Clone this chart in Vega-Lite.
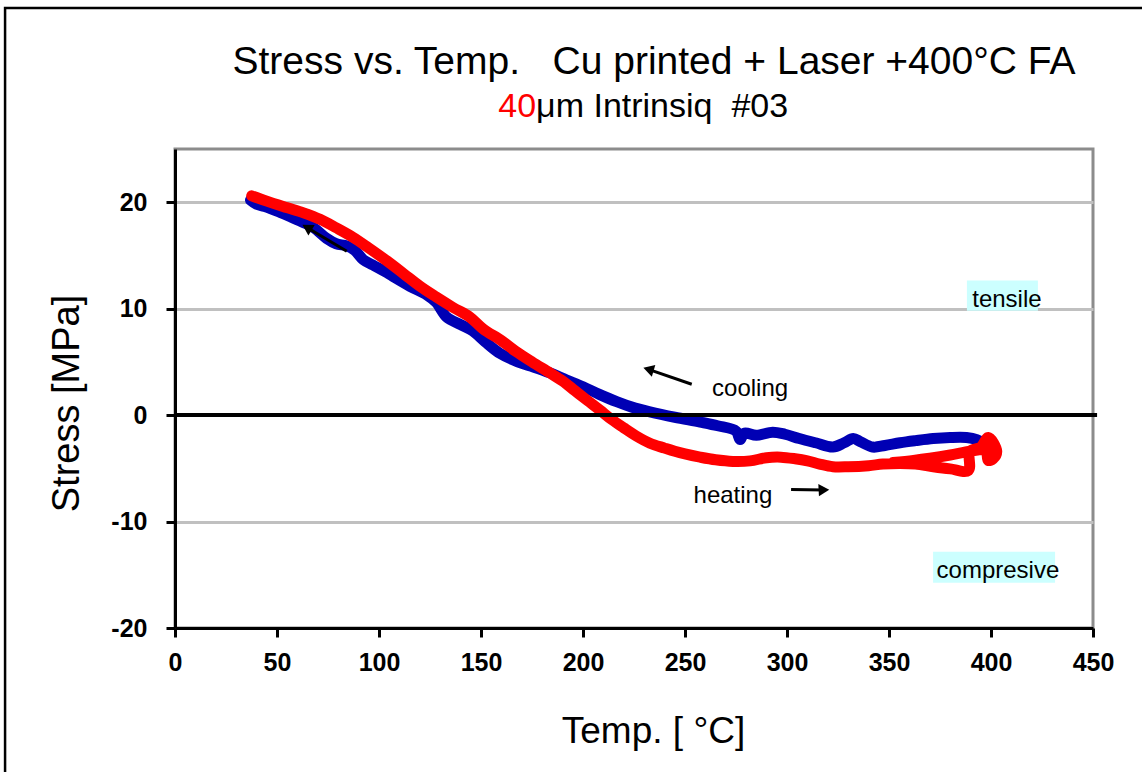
{
  "$schema": "https://vega.github.io/schema/vega-lite/v6.json",
  "width": 918,
  "height": 479,
  "autosize": {"type": "none"},
  "padding": {"left": 175, "top": 149, "right": 49, "bottom": 144},
  "background": "white",
  "config": {
    "font": "Liberation Sans",
    "view": {"stroke": "#8c8c8c", "strokeWidth": 3}
  },
  "datasets": {
    "curves": [
      {"series": "cooling", "order": 1, "temp": 397.9, "stress": -2.83},
      {"series": "cooling", "order": 2, "temp": 393, "stress": -2.3},
      {"series": "cooling", "order": 3, "temp": 388, "stress": -2.1},
      {"series": "cooling", "order": 4, "temp": 380, "stress": -2.1},
      {"series": "cooling", "order": 5, "temp": 371.7, "stress": -2.2},
      {"series": "cooling", "order": 6, "temp": 363, "stress": -2.4},
      {"series": "cooling", "order": 7, "temp": 355.4, "stress": -2.6},
      {"series": "cooling", "order": 8, "temp": 348, "stress": -2.85},
      {"series": "cooling", "order": 9, "temp": 342, "stress": -3.0},
      {"series": "cooling", "order": 10, "temp": 336, "stress": -2.5},
      {"series": "cooling", "order": 11, "temp": 332.5, "stress": -2.2},
      {"series": "cooling", "order": 12, "temp": 328, "stress": -2.6},
      {"series": "cooling", "order": 13, "temp": 322.5, "stress": -3.0},
      {"series": "cooling", "order": 14, "temp": 314, "stress": -2.6},
      {"series": "cooling", "order": 15, "temp": 306, "stress": -2.2},
      {"series": "cooling", "order": 16, "temp": 299, "stress": -1.8},
      {"series": "cooling", "order": 17, "temp": 293, "stress": -1.6},
      {"series": "cooling", "order": 18, "temp": 285, "stress": -1.9},
      {"series": "cooling", "order": 19, "temp": 279, "stress": -1.7},
      {"series": "cooling", "order": 20, "temp": 277, "stress": -2.3},
      {"series": "cooling", "order": 21, "temp": 275, "stress": -1.5},
      {"series": "cooling", "order": 22, "temp": 266, "stress": -1.0},
      {"series": "cooling", "order": 23, "temp": 257.4, "stress": -0.65},
      {"series": "cooling", "order": 24, "temp": 245, "stress": -0.2},
      {"series": "cooling", "order": 25, "temp": 232.8, "stress": 0.31},
      {"series": "cooling", "order": 26, "temp": 224, "stress": 0.75},
      {"series": "cooling", "order": 27, "temp": 216.5, "stress": 1.26},
      {"series": "cooling", "order": 28, "temp": 208, "stress": 1.95},
      {"series": "cooling", "order": 29, "temp": 200, "stress": 2.67},
      {"series": "cooling", "order": 30, "temp": 192, "stress": 3.3},
      {"series": "cooling", "order": 31, "temp": 183.8, "stress": 3.96},
      {"series": "cooling", "order": 32, "temp": 176, "stress": 4.5},
      {"series": "cooling", "order": 33, "temp": 168, "stress": 5.0},
      {"series": "cooling", "order": 34, "temp": 159.3, "stress": 5.8},
      {"series": "cooling", "order": 35, "temp": 152, "stress": 6.9},
      {"series": "cooling", "order": 36, "temp": 146, "stress": 7.9},
      {"series": "cooling", "order": 37, "temp": 140, "stress": 8.5},
      {"series": "cooling", "order": 38, "temp": 133.2, "stress": 9.2},
      {"series": "cooling", "order": 39, "temp": 128, "stress": 10.6},
      {"series": "cooling", "order": 40, "temp": 123.4, "stress": 11.3},
      {"series": "cooling", "order": 41, "temp": 115.2, "stress": 12.1},
      {"series": "cooling", "order": 42, "temp": 108, "stress": 12.9},
      {"series": "cooling", "order": 43, "temp": 103.8, "stress": 13.4},
      {"series": "cooling", "order": 44, "temp": 97, "stress": 14.1},
      {"series": "cooling", "order": 45, "temp": 92.3, "stress": 14.6},
      {"series": "cooling", "order": 46, "temp": 88, "stress": 15.5},
      {"series": "cooling", "order": 47, "temp": 84.2, "stress": 15.9},
      {"series": "cooling", "order": 48, "temp": 79, "stress": 16.1},
      {"series": "cooling", "order": 49, "temp": 74.3, "stress": 16.6},
      {"series": "cooling", "order": 50, "temp": 68, "stress": 17.6},
      {"series": "cooling", "order": 51, "temp": 62.9, "stress": 18.1},
      {"series": "cooling", "order": 52, "temp": 57, "stress": 18.6},
      {"series": "cooling", "order": 53, "temp": 51.5, "stress": 19.05},
      {"series": "cooling", "order": 54, "temp": 44, "stress": 19.6},
      {"series": "cooling", "order": 55, "temp": 40, "stress": 19.8},
      {"series": "cooling", "order": 56, "temp": 37, "stress": 20.2},
      {"series": "heating", "order": 1, "temp": 37.6, "stress": 20.6},
      {"series": "heating", "order": 2, "temp": 45, "stress": 20.1},
      {"series": "heating", "order": 3, "temp": 54.7, "stress": 19.5},
      {"series": "heating", "order": 4, "temp": 63, "stress": 19.0},
      {"series": "heating", "order": 5, "temp": 71.1, "stress": 18.4},
      {"series": "heating", "order": 6, "temp": 79, "stress": 17.6},
      {"series": "heating", "order": 7, "temp": 87.3, "stress": 16.7},
      {"series": "heating", "order": 8, "temp": 95, "stress": 15.7},
      {"series": "heating", "order": 9, "temp": 103.8, "stress": 14.5},
      {"series": "heating", "order": 10, "temp": 112, "stress": 13.3},
      {"series": "heating", "order": 11, "temp": 120.1, "stress": 12.1},
      {"series": "heating", "order": 12, "temp": 128, "stress": 11.1},
      {"series": "heating", "order": 13, "temp": 136.4, "stress": 10.1},
      {"series": "heating", "order": 14, "temp": 144.6, "stress": 9.2},
      {"series": "heating", "order": 15, "temp": 151, "stress": 8.1},
      {"series": "heating", "order": 16, "temp": 160, "stress": 7.0},
      {"series": "heating", "order": 17, "temp": 167, "stress": 6.0},
      {"series": "heating", "order": 18, "temp": 175, "stress": 5.0},
      {"series": "heating", "order": 19, "temp": 183.8, "stress": 3.96},
      {"series": "heating", "order": 20, "temp": 190, "stress": 3.2},
      {"series": "heating", "order": 21, "temp": 196, "stress": 2.3},
      {"series": "heating", "order": 22, "temp": 202, "stress": 1.4},
      {"series": "heating", "order": 23, "temp": 208.3, "stress": 0.47},
      {"series": "heating", "order": 24, "temp": 214, "stress": -0.4},
      {"series": "heating", "order": 25, "temp": 220, "stress": -1.2},
      {"series": "heating", "order": 26, "temp": 226, "stress": -1.95},
      {"series": "heating", "order": 27, "temp": 232.8, "stress": -2.64},
      {"series": "heating", "order": 28, "temp": 240, "stress": -3.1},
      {"series": "heating", "order": 29, "temp": 245, "stress": -3.4},
      {"series": "heating", "order": 30, "temp": 250, "stress": -3.65},
      {"series": "heating", "order": 31, "temp": 257.4, "stress": -3.95},
      {"series": "heating", "order": 32, "temp": 265, "stress": -4.2},
      {"series": "heating", "order": 33, "temp": 273.5, "stress": -4.35},
      {"series": "heating", "order": 34, "temp": 281.9, "stress": -4.3},
      {"series": "heating", "order": 35, "temp": 290, "stress": -4.0},
      {"series": "heating", "order": 36, "temp": 297, "stress": -3.95},
      {"series": "heating", "order": 37, "temp": 304, "stress": -4.1},
      {"series": "heating", "order": 38, "temp": 310, "stress": -4.3},
      {"series": "heating", "order": 39, "temp": 316, "stress": -4.6},
      {"series": "heating", "order": 40, "temp": 322.5, "stress": -4.85},
      {"series": "heating", "order": 41, "temp": 330, "stress": -4.85},
      {"series": "heating", "order": 42, "temp": 340, "stress": -4.75},
      {"series": "heating", "order": 43, "temp": 347, "stress": -4.6},
      {"series": "heating", "order": 44, "temp": 355.4, "stress": -4.55},
      {"series": "heating", "order": 45, "temp": 363, "stress": -4.6},
      {"series": "heating", "order": 46, "temp": 371.7, "stress": -4.85},
      {"series": "heating", "order": 47, "temp": 380, "stress": -5.05},
      {"series": "heating", "order": 48, "temp": 388.9, "stress": -5.2},
      {"series": "heating", "order": 49, "temp": 389.7, "stress": -3.4},
      {"series": "heating", "order": 50, "temp": 395, "stress": -3.0},
      {"series": "heating", "order": 51, "temp": 398.7, "stress": -2.1},
      {"series": "heating", "order": 52, "temp": 402.8, "stress": -3.4},
      {"series": "heating", "order": 53, "temp": 401, "stress": -4.1},
      {"series": "heating", "order": 54, "temp": 398.6, "stress": -4.25},
      {"series": "heating", "order": 55, "temp": 397.5, "stress": -3.3},
      {"series": "heating", "order": 56, "temp": 390, "stress": -3.4},
      {"series": "heating", "order": 57, "temp": 380, "stress": -3.75},
      {"series": "heating", "order": 58, "temp": 370, "stress": -4.05},
      {"series": "heating", "order": 59, "temp": 362, "stress": -4.25},
      {"series": "heating", "order": 60, "temp": 352, "stress": -4.45}
    ],
    "boxes": [
      {"label": "tensile", "temp": 388.2, "temp2": 423.0, "stress": 12.64, "stress2": 9.81},
      {"label": "compresive", "temp": 371.6, "temp2": 431.4, "stress": -12.83, "stress2": -15.75}
    ],
    "notes": [
      {"label": "cooling", "temp": 281.9, "stress": 2.45},
      {"label": "heating", "temp": 273.5, "stress": -7.64},
      {"label": "tensile", "temp": 407.8, "stress": 10.85},
      {"label": "compresive", "temp": 403.4, "stress": -14.6}
    ],
    "arrows": [
      {"arrow": "cooling", "temp": 253.3, "stress": 2.9, "temp2": 232.1, "stress2": 4.3},
      {"arrow": "heating", "temp": 302.0, "stress": -6.98, "temp2": 318.1, "stress2": -7.03},
      {"arrow": "start", "temp": 84.2, "stress": 15.4, "temp2": 64.7, "stress2": 17.63}
    ],
    "heads": [
      {"arrow": "cooling", "temp": 232.1, "stress": 4.3, "angle": 286.6},
      {"arrow": "heating", "temp": 318.1, "stress": -7.03, "angle": 87},
      {"arrow": "start", "temp": 64.7, "stress": 17.63, "angle": 300.7}
    ],
    "zero": [
      {"temp": 0, "temp2": 452, "stress": 0}
    ],
    "frame": [
      {"temp": -83.3, "temp2": 520, "stress": 38.25, "stress2": -45}
    ],
    "titles": [
      {"role": "title", "text": "Stress vs. Temp.\u00a0\u00a0 Cu printed + Laser +400°C FA", "temp": 234.8, "stress": 32.08},
      {"role": "sub_red", "text": "40", "temp": 177.0, "stress": 27.99},
      {"role": "sub_black", "text": "μm Intrinsiq \u00a0#03", "temp": 177.0, "stress": 27.99}
    ]
  },
  "encoding": {
    "x": {
      "field": "temp", "type": "quantitative",
      "scale": {"domain": [0, 450], "nice": false, "zero": false},
      "axis": {
        "title": "Temp. [ °C]",
        "values": [0, 50, 100, 150, 200, 250, 300, 350, 400, 450],
        "labelExpr": "toString(datum.value)",
        "grid": false,
        "domainColor": "black", "domainWidth": 3,
        "tickColor": "black", "tickWidth": 3, "tickSize": 9,
        "labelFont": "Liberation Sans", "labelFontSize": 25, "labelFontWeight": "bold", "labelColor": "black",
        "labelPadding": 13, "labelFlush": false, "labelOverlap": false,
        "titleFont": "Liberation Sans", "titleFontSize": 37, "titleFontWeight": "normal", "titleColor": "black",
        "titleX": 478, "titleY": 114, "titleBaseline": "alphabetic", "titleAlign": "center"
      }
    },
    "y": {
      "field": "stress", "type": "quantitative",
      "scale": {"domain": [-20, 25], "nice": false, "zero": false},
      "axis": {
        "title": "Stress [MPa]",
        "values": [-20, -10, 0, 10, 20],
        "labelExpr": "toString(datum.value)",
        "grid": true, "gridColor": "#c0c0c0", "gridWidth": 3,
        "domainColor": "black", "domainWidth": 3,
        "tickColor": "black", "tickWidth": 3, "tickSize": 9,
        "labelFont": "Liberation Sans", "labelFontSize": 25, "labelFontWeight": "bold", "labelColor": "black",
        "labelPadding": 19, "labelFlush": false, "labelOverlap": false,
        "titleFont": "Liberation Sans", "titleFontSize": 38, "titleFontWeight": "normal", "titleColor": "black",
        "titleX": -108, "titleY": 254, "titleBaseline": "middle", "titleAlign": "center", "titleAngle": -90
      }
    }
  },
  "layer": [
    {
      "data": {"name": "frame"},
      "mark": {"type": "rect", "filled": false, "stroke": "black", "strokeWidth": 2.5, "clip": false},
      "encoding": {
        "x2": {"field": "temp2"},
        "y2": {"field": "stress2"}
      }
    },
    {
      "data": {"name": "boxes"},
      "mark": {"type": "rect", "color": "#ccffff"},
      "encoding": {
        "x2": {"field": "temp2"},
        "y2": {"field": "stress2"}
      }
    },
    {
      "data": {"name": "curves"},
      "transform": [{"filter": "datum.series === 'cooling'"}],
      "mark": {"type": "line", "color": "#0000b4", "strokeWidth": 11, "strokeCap": "round", "strokeJoin": "round", "interpolate": "catmull-rom", "clip": false},
      "encoding": {
        "order": {"field": "order", "type": "quantitative"}
      }
    },
    {
      "data": {"name": "curves"},
      "transform": [{"filter": "datum.series === 'heating'"}],
      "mark": {"type": "line", "color": "#ff0000", "strokeWidth": 11, "strokeCap": "round", "strokeJoin": "round", "interpolate": "catmull-rom", "clip": false},
      "encoding": {
        "order": {"field": "order", "type": "quantitative"}
      }
    },
    {
      "data": {"name": "zero"},
      "mark": {"type": "rule", "color": "black", "strokeWidth": 4},
      "encoding": {
        "x2": {"field": "temp2"}
      }
    },
    {
      "data": {"name": "arrows"},
      "mark": {"type": "rule", "color": "black", "strokeWidth": 3},
      "encoding": {
        "x2": {"field": "temp2"},
        "y2": {"field": "stress2"}
      }
    },
    {
      "data": {"name": "heads"},
      "mark": {"type": "point", "shape": "triangle-up", "filled": true, "color": "black", "size": 150, "opacity": 1},
      "encoding": {
        "angle": {"field": "angle", "type": "quantitative", "scale": null}
      }
    },
    {
      "data": {"name": "notes"},
      "mark": {"type": "text", "fontSize": 24, "font": "Liberation Sans", "color": "black", "align": "center", "baseline": "middle"},
      "encoding": {
        "text": {"field": "label"}
      }
    },
    {
      "data": {"name": "titles"},
      "transform": [{"filter": "datum.role === 'title'"}],
      "mark": {"type": "text", "fontSize": 39, "font": "Liberation Sans", "color": "black", "align": "center", "baseline": "alphabetic"},
      "encoding": {
        "text": {"field": "text"}
      }
    },
    {
      "data": {"name": "titles"},
      "transform": [{"filter": "datum.role === 'sub_red'"}],
      "mark": {"type": "text", "fontSize": 34, "font": "Liberation Sans", "color": "#ff0000", "align": "right", "baseline": "alphabetic"},
      "encoding": {
        "text": {"field": "text"}
      }
    },
    {
      "data": {"name": "titles"},
      "transform": [{"filter": "datum.role === 'sub_black'"}],
      "mark": {"type": "text", "fontSize": 34, "font": "Liberation Sans", "color": "black", "align": "left", "baseline": "alphabetic"},
      "encoding": {
        "text": {"field": "text"}
      }
    }
  ]
}
